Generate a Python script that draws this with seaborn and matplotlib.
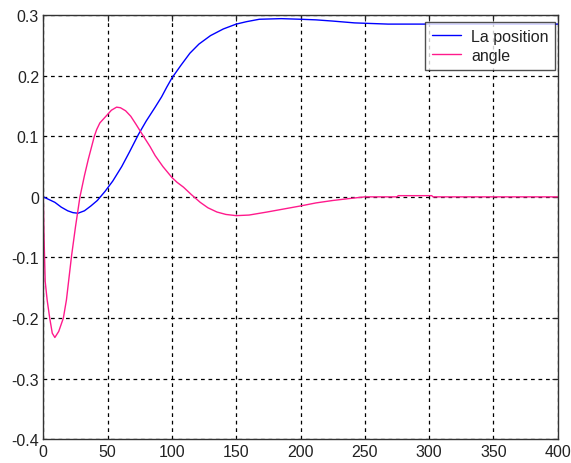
import matplotlib
matplotlib.use('Agg')
import matplotlib.pyplot as plt
import numpy as np
import seaborn as sns

sns.set_theme(style='white')
plt.rcParams['font.family'] = ['Liberation Sans', 'DejaVu Sans']
plt.rcParams['axes.unicode_minus'] = False

# "La position" (blue)
t_pos = [0, 4, 9, 14, 19, 23, 27, 32, 37, 42, 48, 54, 61, 67, 74, 80, 87, 92,
         96, 100, 107, 114, 121, 130, 140, 150, 158, 168, 185, 200, 212, 225,
         242, 268, 300, 350, 400]
pos = [0, -0.004, -0.009, -0.017, -0.023, -0.026, -0.027, -0.023, -0.015,
       -0.006, 0.009, 0.026, 0.050, 0.074, 0.103, 0.125, 0.148, 0.165, 0.181,
       0.196, 0.217, 0.237, 0.252, 0.266, 0.277, 0.285, 0.289, 0.293, 0.294,
       0.293, 0.292, 0.290, 0.287, 0.285, 0.285, 0.285, 0.285]

# "angle" (pink)
t_ang = [0, 0.5, 1.5, 3, 5, 7, 9, 12, 15.6, 18, 22, 25, 28.5, 32, 35, 39.7,
         41.5, 44, 50, 53, 57, 60, 64, 68, 72, 77, 83, 87, 93, 100, 104, 109,
         115, 122, 128, 135, 142, 150, 160, 174, 187, 200, 212, 225, 237, 250,
         275, 276, 302, 303, 400]
angle = [0, -0.06, -0.14, -0.17, -0.2, -0.225, -0.232, -0.222, -0.2, -0.17,
         -0.097, -0.05, 0, 0.035, 0.062, 0.1, 0.111, 0.122, 0.136, 0.143,
         0.148, 0.147, 0.142, 0.133, 0.12, 0.103, 0.083, 0.068, 0.05, 0.032,
         0.024, 0.016, 0.004, -0.009, -0.018, -0.025, -0.029, -0.031, -0.030,
         -0.025, -0.020, -0.015, -0.010, -0.006, -0.003, 0, 0, 0.002, 0.002,
         0, 0]

xticks = np.arange(0, 401, 50)
yticks = [-0.4, -0.3, -0.2, -0.1, 0, 0.1, 0.2, 0.3]


def main():
    fig = plt.figure(figsize=(5.71, 4.64), dpi=100)
    ax = fig.add_axes([0.0758, 0.051, 0.901, 0.9145])

    sns.lineplot(x=t_pos, y=pos, color='#0000ff', lw=1, label='La position',
                 ax=ax, sort=False)
    sns.lineplot(x=t_ang, y=angle, color='#ff1a8c', lw=1, label='angle',
                 ax=ax, sort=False)

    ax.set_xlim(0, 400)
    ax.set_ylim(-0.4, 0.3)
    ax.set_xticks(xticks)
    ax.set_yticks(yticks)
    ax.set_yticklabels([f'{v:g}' for v in yticks])
    ax.tick_params(direction='in', length=4, width=0.8, labelsize=11.5,
                   top=True, right=True, colors='#222222', pad=3)
    for lab in ax.get_xticklabels() + ax.get_yticklabels():
        lab.set_color('#222222')
    for s in ax.spines.values():
        s.set_color('#333333')
        s.set_linewidth(1)
    ax.grid(True, color='black', linestyle=(0, (3, 3)), linewidth=0.9)

    leg = ax.legend(loc='upper right', bbox_to_anchor=(0.995, 0.983),
                    borderaxespad=0, fontsize=11.5, frameon=True,
                    fancybox=False, handlelength=1.85, handletextpad=0.6,
                    borderpad=0.42, labelspacing=0.25)
    leg.get_frame().set_edgecolor('#222222')
    leg.get_frame().set_linewidth(1)
    for txt in leg.get_texts():
        txt.set_color('#222222')

    fig.savefig('out.png', dpi=100)


if __name__ == '__main__':
    plt.ioff()
    main()
